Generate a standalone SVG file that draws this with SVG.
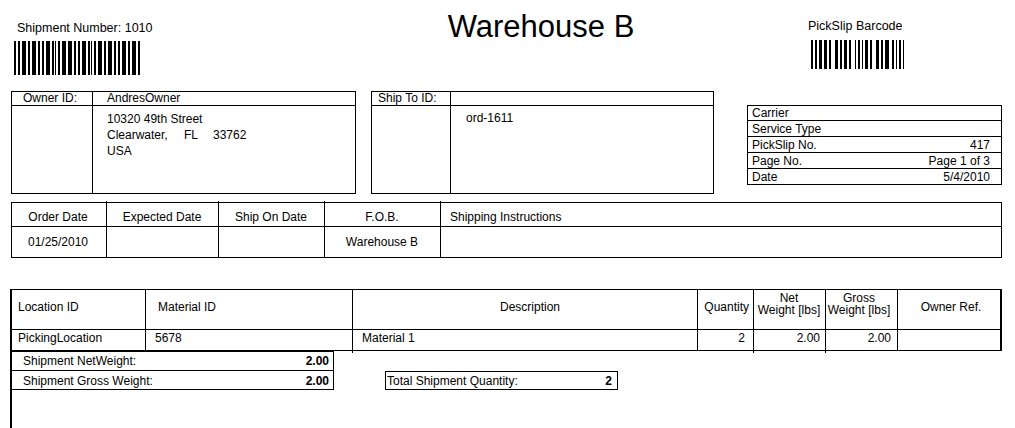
<svg xmlns="http://www.w3.org/2000/svg" width="1015" height="428" viewBox="0 0 1015 428">
<style>
text{font-family:"Liberation Sans",Arial,sans-serif;font-size:12px;fill:#000}
.title{font-size:31px}
.b{font-weight:bold}
.m{text-anchor:middle}
.e{text-anchor:end}
.ln{fill:none;stroke:#000;stroke-width:1;shape-rendering:crispEdges}
.bar{fill:#000;shape-rendering:crispEdges}
</style>
<rect x="0" y="0" width="1015" height="428" fill="#fff"/>

<g id="header">
<text x="17" y="32" style="font-size:12.5px">Shipment Number: 1010</text>
<text class="title m" x="541" y="37">Warehouse B</text>
<text x="808" y="30" style="font-size:12.5px">PickSlip Barcode</text>
</g>

<g id="shipment-barcode" class="bar">
<rect x="14" y="41" width="2" height="34"/><rect x="18" y="41" width="2" height="34"/><rect x="22" y="41" width="4" height="34"/><rect x="28" y="41" width="2" height="34"/><rect x="32" y="41" width="4" height="34"/><rect x="38" y="41" width="2" height="34"/><rect x="42" y="41" width="2" height="34"/><rect x="46" y="41" width="4" height="34"/><rect x="52" y="41" width="2" height="34"/><rect x="55" y="41" width="1" height="34"/><rect x="58" y="41" width="2" height="34"/><rect x="62" y="41" width="4" height="34"/><rect x="68" y="41" width="4" height="34"/><rect x="74" y="41" width="2" height="34"/><rect x="78" y="41" width="2" height="34"/><rect x="82" y="41" width="4" height="34"/><rect x="88" y="41" width="2" height="34"/><rect x="91" y="41" width="1" height="34"/><rect x="94" y="41" width="2" height="34"/><rect x="98" y="41" width="4" height="34"/><rect x="104" y="41" width="2" height="34"/><rect x="108" y="41" width="4" height="34"/><rect x="114" y="41" width="2" height="34"/><rect x="118" y="41" width="2" height="34"/><rect x="122" y="41" width="4" height="34"/><rect x="128" y="41" width="2" height="34"/><rect x="132" y="41" width="4" height="34"/><rect x="138" y="41" width="2" height="34"/>
</g>

<g id="pickslip-barcode" class="bar">
<rect x="811" y="40" width="2" height="29"/><rect x="815" y="40" width="2" height="29"/><rect x="819" y="40" width="3" height="29"/><rect x="824" y="40" width="3" height="29"/><rect x="829" y="40" width="2" height="29"/><rect x="835" y="40" width="3" height="29"/><rect x="840" y="40" width="2" height="29"/><rect x="844" y="40" width="3" height="29"/><rect x="849" y="40" width="2" height="29"/><rect x="855" y="40" width="1" height="29"/><rect x="858" y="40" width="2" height="29"/><rect x="862" y="40" width="1" height="29"/><rect x="865" y="40" width="3" height="29"/><rect x="870" y="40" width="2" height="29"/><rect x="876" y="40" width="3" height="29"/><rect x="881" y="40" width="2" height="29"/><rect x="885" y="40" width="4" height="29"/><rect x="892" y="40" width="2" height="29"/><rect x="896" y="40" width="1" height="29"/><rect x="899" y="40" width="2" height="29"/><rect x="903" y="40" width="1" height="29"/>
</g>

<g id="owner-box">
<rect class="ln" x="11.5" y="91.5" width="344" height="102"/>
<line class="ln" x1="11" y1="105.5" x2="356" y2="105.5"/>
<line class="ln" x1="92.5" y1="91" x2="92.5" y2="194"/>
<text x="23" y="102">Owner ID:</text>
<text x="107" y="102">AndresOwner</text>
<text x="107" y="123">10320 49th Street</text>
<text x="107" y="139">Clearwater,<tspan x="184">FL</tspan><tspan x="213">33762</tspan></text>
<text x="107" y="155">USA</text>
</g>

<g id="shipto-box">
<rect class="ln" x="371.5" y="91.5" width="342" height="102"/>
<line class="ln" x1="371" y1="105.5" x2="714" y2="105.5"/>
<line class="ln" x1="450.5" y1="91" x2="450.5" y2="194"/>
<text x="378" y="102">Ship To ID:</text>
<text x="466" y="122">ord-1611</text>
</g>

<g id="carrier-box">
<rect class="ln" x="747.5" y="105.5" width="254" height="79"/>
<line class="ln" x1="747" y1="120.5" x2="1002" y2="120.5"/>
<line class="ln" x1="747" y1="136.5" x2="1002" y2="136.5"/>
<line class="ln" x1="747" y1="152.5" x2="1002" y2="152.5"/>
<line class="ln" x1="747" y1="168.5" x2="1002" y2="168.5"/>
<text x="752" y="117">Carrier</text>
<text x="752" y="133">Service Type</text>
<text x="752" y="149">PickSlip No.</text>
<text class="e" x="990" y="149">417</text>
<text x="752" y="165">Page No.</text>
<text class="e" x="990" y="165">Page 1 of 3</text>
<text x="752" y="181">Date</text>
<text class="e" x="990" y="181">5/4/2010</text>
</g>

<g id="order-table">
<rect class="ln" x="11.5" y="202.5" width="990" height="55"/>
<line class="ln" x1="11" y1="226.5" x2="1002" y2="226.5"/>
<line class="ln" x1="106.5" y1="201" x2="106.5" y2="258"/>
<line class="ln" x1="218.5" y1="201" x2="218.5" y2="258"/>
<line class="ln" x1="324.5" y1="201" x2="324.5" y2="258"/>
<line class="ln" x1="440.5" y1="201" x2="440.5" y2="258"/>
<text class="m" x="58" y="221">Order Date</text>
<text class="m" x="162" y="221">Expected Date</text>
<text class="m" x="271" y="221">Ship On Date</text>
<text class="m" x="382" y="221">F.O.B.</text>
<text x="450" y="221">Shipping Instructions</text>
<text class="m" x="58" y="246">01/25/2010</text>
<text class="m" x="382" y="246">Warehouse B</text>
</g>

<g id="material-table">
<line class="ln" x1="10" y1="289.5" x2="1002" y2="289.5"/>
<line class="ln" x1="10" y1="329.5" x2="1002" y2="329.5"/>
<line class="ln" x1="10" y1="350.5" x2="1002" y2="350.5"/>
<rect class="bar" x="10" y="289" width="2" height="139"/>
<rect class="bar" x="1000" y="289" width="2" height="62"/>
<line class="ln" x1="145.5" y1="289" x2="145.5" y2="351"/>
<line class="ln" x1="352.5" y1="289" x2="352.5" y2="353"/>
<line class="ln" x1="697.5" y1="289" x2="697.5" y2="351"/>
<line class="ln" x1="753.5" y1="289" x2="753.5" y2="353"/>
<line class="ln" x1="825.5" y1="289" x2="825.5" y2="353"/>
<line class="ln" x1="897.5" y1="289" x2="897.5" y2="351"/>
<text x="18" y="311">Location ID</text>
<text x="158" y="311">Material ID</text>
<text class="m" x="530" y="311">Description</text>
<text class="e" x="749" y="311">Quantity</text>
<text class="m" x="789" y="302">Net</text>
<text class="m" x="789" y="314">Weight [lbs]</text>
<text class="m" x="859" y="302">Gross</text>
<text class="m" x="859" y="314">Weight [lbs]</text>
<text class="m" x="951" y="311">Owner Ref.</text>
<text x="18" y="342">PickingLocation</text>
<text x="155" y="342">5678</text>
<text x="362" y="342">Material 1</text>
<text class="e" x="745" y="342">2</text>
<text class="e" x="820" y="342">2.00</text>
<text class="e" x="891" y="342">2.00</text>
</g>

<g id="weight-box">
<rect class="ln" x="11.5" y="351.5" width="322" height="38"/>
<line class="ln" x1="11" y1="370.5" x2="334" y2="370.5"/>
<text x="23" y="365">Shipment NetWeight:</text>
<text class="e b" x="329" y="365">2.00</text>
<text x="23" y="385">Shipment Gross Weight:</text>
<text class="e b" x="329" y="385">2.00</text>
</g>

<g id="quantity-box">
<rect class="ln" x="385.5" y="371.5" width="232" height="18"/>
<text x="387" y="385">Total Shipment Quantity:</text>
<text class="e b" x="612" y="385">2</text>
</g>

<g id="connectors"/>
</svg>
